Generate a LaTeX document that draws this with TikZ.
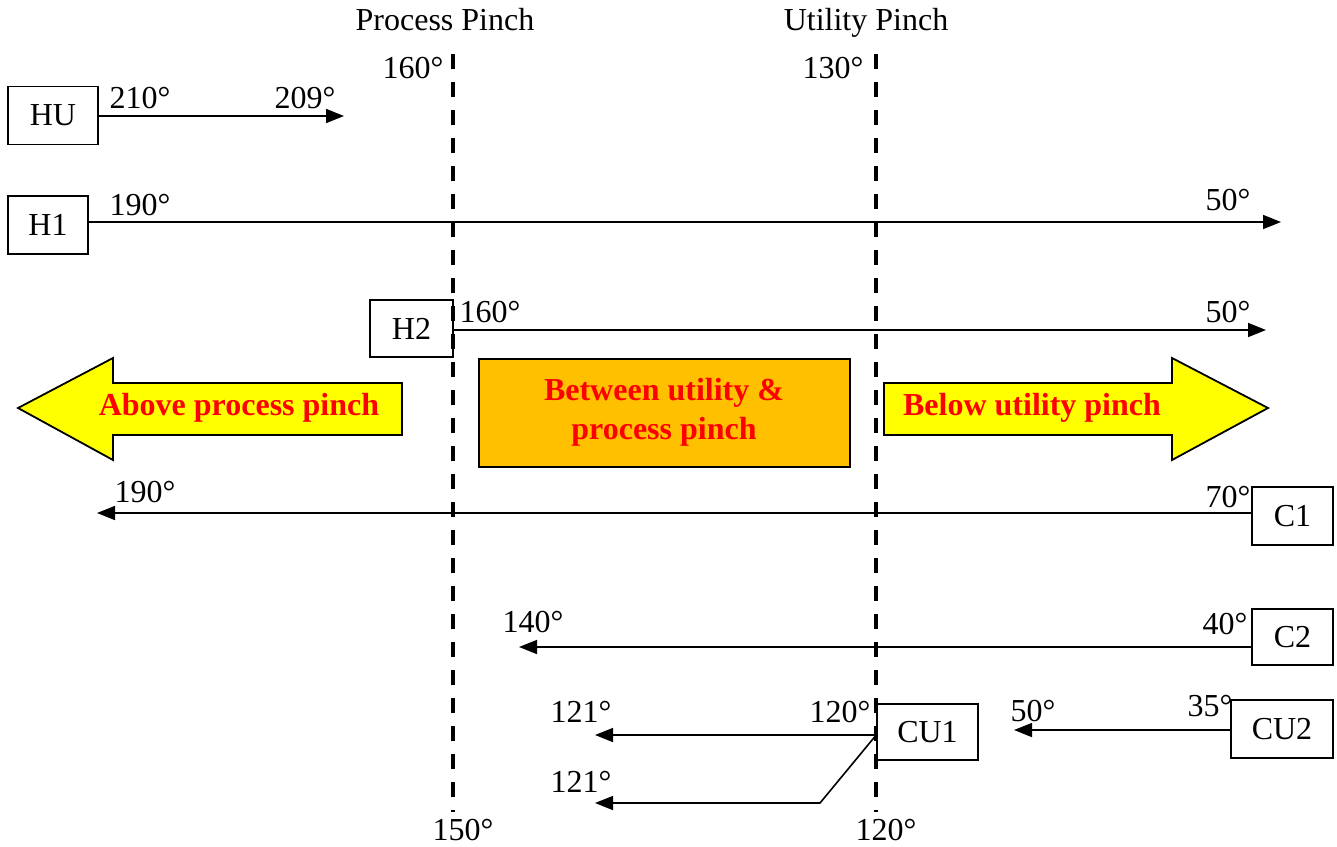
\documentclass[tikz,border=0pt]{standalone}
\usepackage{fontspec}
\setmainfont{Liberation Serif}
\usetikzlibrary{arrows.meta}
\definecolor{ayellow}{HTML}{FFFF00}
\definecolor{aorange}{HTML}{FFC000}
\definecolor{ared}{HTML}{FF0000}
\begin{document}
\begin{tikzpicture}[x=1pt,y=-1pt,
  every node/.style={font=\fontsize{32}{36}\selectfont, inner sep=0pt},
  box/.style={draw, line width=1.6pt, minimum height=58pt, anchor=center},
  stream/.style={line width=1.6pt, -{Triangle[length=18pt,width=14pt]}},
  pinch/.style={line width=4pt, dash pattern=on 15pt off 13pt},
  lbl/.style={anchor=center, text height=21.5pt, text depth=0pt},
  big/.style={font=\fontsize{32}{39}\selectfont\bfseries, text=ared, align=center},
  fatarrow/.style={draw, line width=1.8pt, fill=ayellow, line join=miter}]
\useasboundingbox (0,0) rectangle (1337,846);

% pinch lines
\coordinate (pt) at (453,54);
\coordinate (pb) at (453,812);
\coordinate (ut) at (876,54);
\coordinate (ub) at (876,812);
\draw[pinch] (pt) -- (pb);
\draw[pinch] (ut) -- (ub);
\node[lbl] (ptitle) at (445,20) {Process Pinch};
\node[lbl] (utitle) at (866,20) {Utility Pinch};
\node[lbl] (p160) at (413,68) {160°};
\node[lbl] (u130) at (833,68) {130°};
\node[lbl] (p150) at (463,830) {150°};
\node[lbl] (u120) at (886,830) {120°};

% region arrows
\draw[fatarrow] (18,408) -- (113,358) -- (113,383) -- (402,383) -- (402,435) -- (113,435) -- (113,460) -- cycle;
\node[big] (above) at (239,408) {Above process pinch};
\draw[fatarrow] (1268,408) -- (1172,358) -- (1172,383) -- (884,383) -- (884,435) -- (1172,435) -- (1172,460) -- cycle;
\node[big] (below) at (1032,408) {Below utility pinch};
\node[draw=black, line width=2pt, fill=aorange, minimum width=371pt, minimum height=108pt, big] (between) at (664,412.5) {Between utility \&\\process pinch};

% HU
\node[box, minimum width=90pt] (HU) at (53,115.5) {HU};
\coordinate (HUe) at (344,116);
\draw[stream] (HU.east |- HUe) -- (HUe);
\node[lbl] at (140,98) {210°};
\node[lbl] at (305,98) {209°};

% H1
\node[box, minimum width=80pt] (H1) at (48,225) {H1};
\coordinate (H1e) at (1281,222);
\draw[stream] (H1.east |- H1e) -- (H1e);
\node[lbl] at (140,205) {190°};
\node[lbl] at (1228,200) {50°};

% H2
\node[box, minimum width=83pt, minimum height=57pt] (H2) at (411.5,328.5) {H2};
\coordinate (H2e) at (1266,330);
\draw[stream] (H2.east |- H2e) -- (H2e);
\node[lbl] at (490,312) {160°};
\node[lbl] at (1228,312) {50°};

% C1
\node[box, minimum width=81pt] (C1) at (1292.5,516) {C1};
\coordinate (C1e) at (97,513);
\draw[stream] (C1.west |- C1e) -- (C1e);
\node[lbl] at (145,492) {190°};
\node[lbl] at (1228,497) {70°};

% C2
\node[box, minimum width=81pt, minimum height=56pt] (C2) at (1292.5,637) {C2};
\coordinate (C2e) at (519,647);
\draw[stream] (C2.west |- C2e) -- (C2e);
\node[lbl] at (533,622) {140°};
\node[lbl] at (1225,624) {40°};

% CU1
\node[box, minimum width=101pt, minimum height=56pt] (CU1) at (927.5,732) {CU1};
\coordinate (CU1a) at (595,735);
\coordinate (CU1k) at (820,803);
\coordinate (CU1b) at (595,803);
\draw[stream] (CU1.west |- CU1a) -- (CU1a);
\draw[stream] (CU1.west |- CU1a) -- (CU1k) -- (CU1b);
\node[lbl] at (840,712) {120°};
\node[lbl] at (581,712) {121°};
\node[lbl] at (581,782) {121°};

% CU2
\node[box, minimum width=102pt, minimum height=58pt] (CU2) at (1282,729) {CU2};
\coordinate (CU2e) at (1014,730);
\draw[stream] (CU2.west |- CU2e) -- (CU2e);
\node[lbl] at (1210,706) {35°};
\node[lbl] at (1033,711) {50°};
\end{tikzpicture}
\end{document}
